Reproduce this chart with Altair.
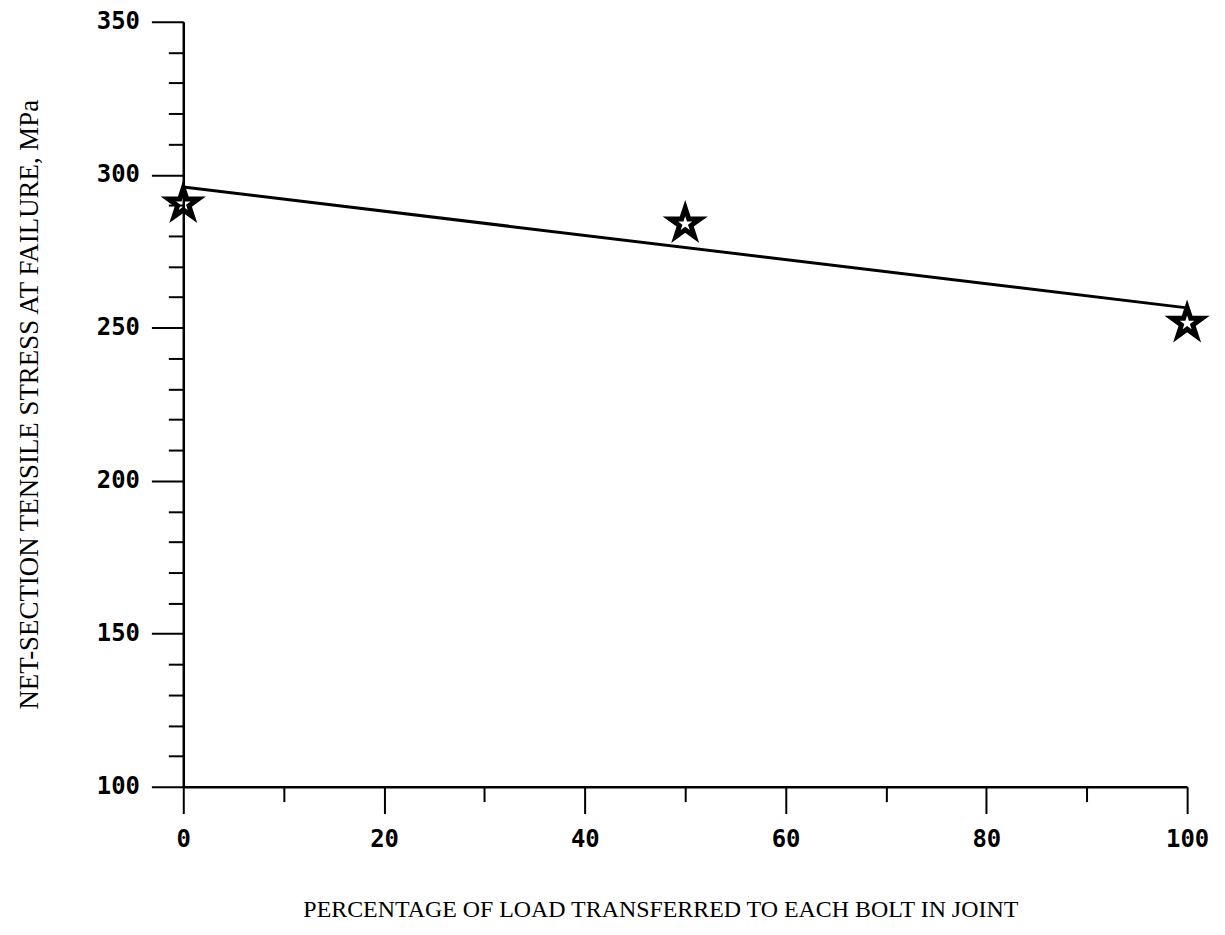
import altair as alt
import pandas as pd

# data
x_pts = [0, 50, 100]
y_pts = [290.5, 284, 251.5]
line_x = [0, 100]
line_y = [296, 256.5]
x_ticks = list(range(0, 101, 10))
y_ticks = list(range(100, 351, 10))

pts = pd.DataFrame({"x": x_pts, "y": y_pts})
ln = pd.DataFrame({"x": line_x, "y": line_y})

STAR = ("M0,-1L0.2245,-0.309L0.951,-0.309L0.363,0.118L0.588,0.809L0,0.382"
        "L-0.588,0.809L-0.363,0.118L-0.951,-0.309L-0.2245,-0.309Z")

xscale = alt.Scale(domain=[0, 100], nice=False, zero=False)
yscale = alt.Scale(domain=[100, 350], nice=False, zero=False)

LABEL_FONT = "DejaVu Sans Mono"
TITLE_FONT = "Liberation Serif"

xaxis = alt.Axis(
    values=x_ticks, tickCount=40,
    title="PERCENTAGE OF LOAD TRANSFERRED TO EACH BOLT IN JOINT",
    grid=False,
    labelExpr="datum.value % 20 === 0 ? datum.label : ''",
    labelOverlap=False, labelFlush=False,
    tickSize={"condition": {"test": "datum.value % 20 === 0", "value": 27}, "value": 15},
    tickWidth=2, tickColor="black",
    domainWidth=2.5, domainColor="black",
    labelFont=LABEL_FONT, labelFontWeight="bold", labelFontSize=24, labelColor="black",
    labelPadding=14,
    titleFont=TITLE_FONT, titleFontWeight="normal", titleFontSize=24, titleColor="black",
    titlePadding=46, titleX=479,
)
yaxis = alt.Axis(
    values=y_ticks, tickCount=40,
    title="NET-SECTION TENSILE STRESS AT FAILURE, MPa",
    grid=False,
    labelExpr="datum.value % 50 === 0 ? datum.label : ''",
    labelOverlap=False, labelFlush=False,
    tickSize={"condition": {"test": "datum.value % 50 === 0", "value": 32}, "value": 15},
    tickWidth=2, tickColor="black",
    domainWidth=2.5, domainColor="black",
    labelFont=LABEL_FONT, labelFontWeight="bold", labelFontSize=24, labelColor="black",
    labelPadding=12,
    titleFont=TITLE_FONT, titleFontWeight="normal", titleFontSize=27, titleColor="black",
    titlePadding=53,
)

line = alt.Chart(ln).mark_line(color="black", strokeWidth=3).encode(
    x=alt.X("x:Q", scale=xscale, axis=xaxis),
    y=alt.Y("y:Q", scale=yscale, axis=yaxis),
)
stars = alt.Chart(pts).mark_point(
    shape=STAR, size=1000, filled=False, stroke="black", strokeWidth=5, opacity=1
).encode(
    x=alt.X("x:Q", scale=xscale),
    y=alt.Y("y:Q", scale=yscale),
)

chart = (line + stars).properties(
    width=1008, height=768,
    padding={"left": 7, "top": 0, "right": 4, "bottom": 0},
    background="white",
).configure_view(stroke=None)

chart.save("out.html", embed_options={"renderer": "svg", "actions": False})
